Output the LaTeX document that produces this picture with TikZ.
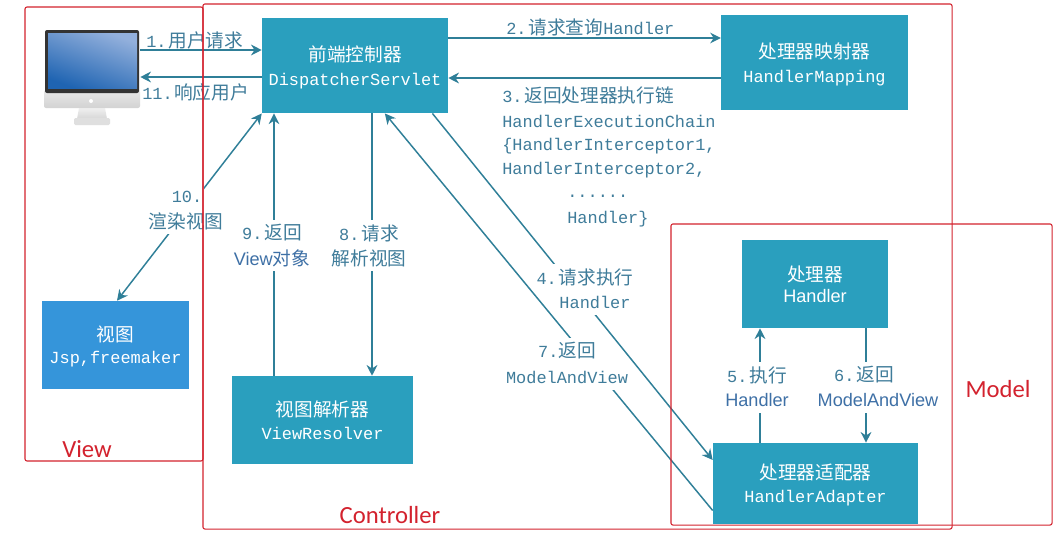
\documentclass[tikz,border=0pt]{standalone}
\usepackage{fontspec}
\setmainfont{Liberation Sans}
\setsansfont{Liberation Sans}
\setmonofont{Liberation Mono}
\newfontfamily\cjk{Noto Sans CJK SC}
\newfontfamily\redfont{Carlito}
\usetikzlibrary{arrows.meta,calc}
\newcommand{\zh}[1]{{\fontsize{14pt}{16pt}\cjk #1}}
\newcommand{\mn}[1]{{\fontsize{12.7pt}{15pt}\ttfamily #1}}
\newcommand{\sn}[1]{{\fontsize{13.6pt}{16pt}\sffamily #1}}
\definecolor{boxteal}{HTML}{2A9FBE}
\definecolor{boxblue}{HTML}{3595DA}
\definecolor{linecol}{HTML}{2F7F98}
\definecolor{labmono}{HTML}{3F7C9A}
\definecolor{labsans}{HTML}{3E70A6}
\definecolor{regred}{HTML}{D3222E}
\definecolor{screenlight}{HTML}{93B0DC}
\definecolor{screendark}{HTML}{1F64B2}
\tikzset{
  px/.style={x=.75pt,y=-.75pt},
  compbox/.style={fill=boxteal,text=white,align=center,inner sep=0pt,text depth=0pt},
  arr/.style={draw=linecol,line width=1.1pt,-{Stealth[length=8pt,width=8pt]}},
  lab/.style={fill=white,text=labmono,inner sep=1pt,minimum height=18.8pt,anchor=center},
  sanslab/.style={lab,text=labsans},
  free/.style={text=labmono,inner sep=0pt,anchor=west},
  region/.style={draw=regred,line width=.8pt,rounded corners=1.5pt,inner sep=0pt},
  redlab/.style={text=regred,font=\fontsize{18.5pt}{20pt}\redfont,inner sep=0pt}
}
\begin{document}
\begin{tikzpicture}[px]
\fill[white] (0,0) rectangle (1061,536);
\useasboundingbox (0,0) rectangle (1061,536);

% monitor
\shade[top color=gray!12,bottom color=gray!32] (79,108) -- (105,108) -- (107,119) -- (77,119) -- cycle;
\fill[gray!25,rounded corners=1pt] (74,118) rectangle (110,125);
\shade[top color=gray!18,bottom color=gray!35,rounded corners=1.5pt] (44,90) rectangle (140,108);
\fill[black!80,rounded corners=1.5pt] (45,30) rectangle (139,93);
\shade[left color=screenlight,right color=screendark,shading angle=-20] (48,33) rectangle (137,88);
\fill[white] (91,101) circle (2);
\node[minimum width=72pt,minimum height=71pt,inner sep=0pt] (pc) at (92,77.5) {};

% component boxes
\node[compbox,minimum width=139.5pt,minimum height=71.5pt] (disp) at (355,65.5) {\zh{前端控制器}\\[5.5pt]\mn{DispatcherServlet}};
\node[compbox,minimum width=140pt,minimum height=71.5pt] (map) at (814.5,62.5) {\zh{处理器映射器}\\[5.5pt]\mn{HandlerMapping}};
\node[compbox,minimum width=109.5pt,minimum height=66pt] (hand) at (815,284) {\zh{处理器}\\[4pt]\sn{Handler}};
\node[compbox,minimum width=153.8pt,minimum height=60.8pt] (adapt) at (815.5,483.5) {\zh{处理器适配器}\\[5.5pt]\mn{HandlerAdapter}};
\node[compbox,fill=boxblue,minimum width=110pt,minimum height=66pt] (view) at (115.5,345) {\zh{视图}\\[4.5pt]\mn{Jsp,freemaker}};
\node[compbox,minimum width=135.8pt,minimum height=66pt] (vres) at (322.5,420) {\zh{视图解析器}\\[5pt]\mn{ViewResolver}};

% anchor heights and columns of the connectors
\coordinate (y1) at (0,50);
\coordinate (y11) at (0,77);
\coordinate (y2) at (0,38);
\coordinate (y3) at (0,78);
\coordinate (x9) at (274,0);
\coordinate (x8) at (372,0);
\coordinate (x5) at (760,0);
\coordinate (x6) at (866,0);

% connectors
\draw[arr] (pc.east |- y1) -- (disp.west |- y1);
\draw[arr] (disp.west |- y11) -- (pc.east |- y11);
\draw[arr] (disp.east |- y2) -- (map.west |- y2);
\draw[arr] (map.west |- y3) -- (disp.east |- y3);
\draw[arr,{Stealth[length=8pt,width=8pt]}-{Stealth[length=8pt,width=8pt]}] (view.north) ++(1.5,0) -- (disp.south west);
\draw[arr] (vres.north -| x9) -- (disp.south -| x9);
\draw[arr] (disp.south -| x8) -- (vres.north -| x8);
\draw[arr] (adapt.west |- 0,510.5) -- ($(disp.south west)!.66!(disp.south east)$);
\draw[arr] ($(disp.south west)!.915!(disp.south east)$) -- (adapt.west |- 0,460);
\draw[arr] (adapt.north -| x5) -- (hand.south -| x5);
\draw[arr] (hand.south -| x6) -- (adapt.north -| x6);

% connector labels
\node[free] (l1) at (146,40) {\mn{1.}\hspace{1.5pt}\zh{用户请求}};
\node[free] (l11) at (142,92) {\mn{11.}\hspace{1pt}\zh{响应用户}};
\node[free] (l2) at (506,27) {\mn{2.}\hspace{1.5pt}\zh{请求查询}\mn{Handler}};
\node[free] (l3a) at (502,95) {\mn{3.}\hspace{1.5pt}\zh{返回处理器执行链}};
\node[free] (l3b) at (502,121) {\mn{HandlerExecutionChain}};
\node[free] (l3c) at (502,146) {\mn{\{HandlerInterceptor1,}};
\node[free] (l3d) at (502,170) {\mn{HandlerInterceptor2,}};
\node[free] (l3e) at (567,196) {\mn{......}};
\node[free] (l3f) at (567,219) {\mn{Handler\}}};

\node[lab] (l10a) at (187,197) {\mn{10.}};
\node[lab] (l10b) at (186,221.5) {\zh{渲染视图}};
\node[lab] (l9a) at (272,233) {\mn{9.}\hspace{1.5pt}\zh{返回}};
\node[sanslab] (l9b) at (272,258) {\sn{View}\zh{对象}};
\node[lab] (l8a) at (369,233) {\mn{8.}\hspace{1.5pt}\zh{请求}};
\node[lab] (l8b) at (369,258) {\zh{解析视图}};
\node[lab] (l4a) at (585,277) {\mn{4.}\hspace{1.5pt}\zh{请求执行}};
\node[lab] (l4b) at (595,302) {\mn{Handler}};
\node[lab] (l7a) at (567,351) {\mn{7.}\zh{返回}};
\node[lab] (l7b) at (567,377) {\mn{ModelAndView}};
\node[lab] (l5a) at (757,375) {\mn{5.}\hspace{1.5pt}\zh{执行}};
\node[sanslab] (l5b) at (757,400) {\sn{Handler}};
\node[lab] (l6a) at (864,375) {\mn{6.}\hspace{1.5pt}\zh{返回}};
\node[sanslab] (l6b) at (878,400) {\sn{ModelAndView}};

% red regions
\node[region,minimum width=133.5pt,minimum height=340.5pt] (rview) at (114,234) {};
\node[region,minimum width=561.8pt,minimum height=393.8pt] (rctrl) at (577.5,266.5) {};
\node[region,minimum width=285.8pt,minimum height=225.8pt] (rmodel) at (861.5,374.5) {};
\node[redlab] (tview) at (87,449) {View};
\node[redlab] (tctrl) at (390,515) {Controller};
\node[redlab] (tmodel) at (998,389) {Model};
\end{tikzpicture}
\end{document}
